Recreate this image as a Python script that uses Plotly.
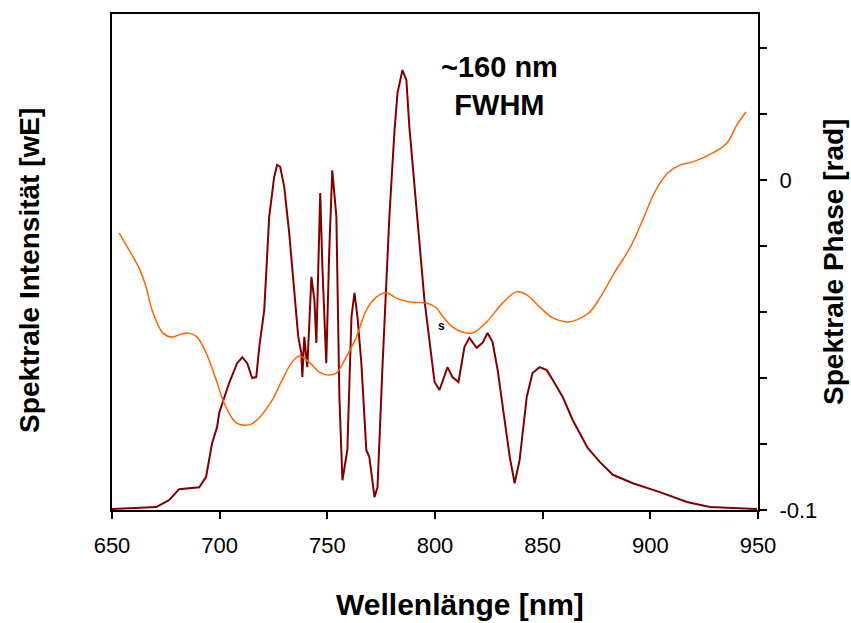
import plotly.graph_objects as go

# Spectral intensity (arbitrary units)
wl_int = [650.0, 670.5, 676.5, 681.2, 690.5, 693.7, 696.5, 698.8, 699.8, 702.1, 704.4, 708.1,
          710.5, 712.8, 715.1, 717.0, 718.4, 720.7, 723.0, 725.3, 726.7, 728.1, 730.0, 732.3,
          734.7, 736.5, 737.9, 738.4, 739.3, 740.7, 742.6, 744.0, 744.9, 746.7, 747.7, 749.5,
          750.9, 752.3, 754.2, 755.6, 757.0, 759.3, 761.2, 762.6, 764.0, 765.8, 768.1, 769.5,
          771.9, 773.3, 775.6, 777.4, 778.8, 781.2, 782.6, 784.9, 786.7, 788.1, 790.5, 792.8,
          795.1, 797.4, 799.8, 802.1, 804.4, 805.8, 808.1, 810.9, 813.7, 816.0, 819.3, 822.1,
          824.4, 826.7, 829.1, 832.3, 834.7, 837.0, 839.3, 842.6, 845.3, 848.6, 851.9, 854.7,
          859.3, 864.0, 867.2, 870.9, 876.5, 882.6, 891.9, 904.4, 917.0, 927.7, 938.4, 949.5]
intensity = [0.002, 0.006, 0.020, 0.042, 0.046, 0.067, 0.135, 0.167, 0.196, 0.228, 0.256, 0.296,
             0.308, 0.296, 0.266, 0.268, 0.329, 0.403, 0.591, 0.671, 0.696, 0.692, 0.651, 0.558,
             0.429, 0.349, 0.317, 0.268, 0.349, 0.288, 0.470, 0.423, 0.337, 0.639, 0.490, 0.296,
             0.524, 0.685, 0.591, 0.228, 0.060, 0.121, 0.389, 0.438, 0.389, 0.296, 0.121, 0.107,
             0.026, 0.046, 0.288, 0.458, 0.591, 0.766, 0.841, 0.887, 0.867, 0.772, 0.659, 0.538,
             0.423, 0.337, 0.258, 0.242, 0.268, 0.288, 0.268, 0.258, 0.329, 0.347, 0.327, 0.337,
             0.357, 0.339, 0.282, 0.181, 0.107, 0.054, 0.101, 0.228, 0.276, 0.288, 0.282, 0.262,
             0.228, 0.181, 0.155, 0.125, 0.097, 0.071, 0.054, 0.036, 0.016, 0.006, 0.004, 0.002]

# Spectral phase (rad)
wl_phase = [653.3, 657.9, 662.6, 665.8, 668.6, 673.3, 677.4, 682.1, 685.8, 689.5, 693.7, 698.4,
            702.1, 707.7, 713.7, 717.4, 724.4, 728.6, 733.3, 737.0, 741.6, 746.3, 750.9, 754.2,
            758.8, 763.5, 768.1, 772.8, 777.4, 782.1, 788.1, 796.0, 800.7, 802.1, 808.1, 814.7,
            818.4, 824.0, 831.4, 837.9, 842.6, 848.6, 854.7, 861.2, 865.8, 871.9, 876.5, 883.5,
            890.5, 896.5, 902.1, 908.1, 913.7, 919.8, 929.1, 935.6, 940.2, 944.4]
phase = [-0.0161, -0.0212, -0.0267, -0.0324, -0.0394, -0.0461, -0.0476, -0.0467, -0.0464, -0.0476,
         -0.0524, -0.0606, -0.0676, -0.0736, -0.0742, -0.0727, -0.0667, -0.0612, -0.0555, -0.0533,
         -0.0552, -0.0582, -0.0591, -0.0585, -0.0536, -0.0476, -0.0394, -0.0355, -0.0342, -0.0358,
         -0.0370, -0.0373, -0.0388, -0.0400, -0.0445, -0.0464, -0.0461, -0.0430, -0.0373, -0.0339,
         -0.0348, -0.0385, -0.0418, -0.0430, -0.0424, -0.0400, -0.0358, -0.0279, -0.0206, -0.0121,
         -0.0036, 0.0021, 0.0045, 0.0055, 0.0082, 0.0112, 0.0167, 0.0206]

x_ticks = [650, 700, 750, 800, 850, 900, 950]
phase_ticks = [-0.1, -0.08, -0.06, -0.04, -0.02, 0, 0.02, 0.04]
phase_tick_text = ["-0.1", "", "", "", "", "0", "", ""]

FONT = "Liberation Sans, Arial, sans-serif"

fig = go.Figure()
fig.add_trace(go.Scatter(x=wl_int, y=intensity, mode="lines",
                         line=dict(color="#800000", width=2), yaxis="y"))
fig.add_trace(go.Scatter(x=wl_phase, y=phase, mode="lines",
                         line=dict(color="#FF6600", width=1.5, shape="spline"), yaxis="y2"))

fig.update_layout(
    width=851, height=623,
    margin=dict(l=112, r=93, t=14, b=113),
    paper_bgcolor="white", plot_bgcolor="white",
    showlegend=False,
    font=dict(family=FONT, size=22, color="black"),
    xaxis=dict(range=[650, 950], tickvals=x_ticks, ticks="outside", ticklen=7, tickwidth=1.5,
               tickcolor="black", showline=True, linecolor="black", linewidth=2, mirror=True,
               showgrid=False, zeroline=False, tickfont=dict(size=22), ticklabelstandoff=8),
    yaxis=dict(range=[0, 1], showticklabels=False, ticks="", showline=True, linecolor="black",
               linewidth=2, showgrid=False, zeroline=False),
    yaxis2=dict(range=[-0.1, 0.0503], overlaying="y", side="right", tickvals=phase_ticks,
                ticktext=phase_tick_text, ticks="outside", ticklen=7, tickwidth=1.5,
                tickcolor="black", showline=True, linecolor="black", linewidth=2,
                showgrid=False, zeroline=False, tickfont=dict(size=22), ticklabelstandoff=8),
    annotations=[
        dict(text="<b>Wellenlänge [nm]</b>", x=0.539, y=-0.1915, xref="paper", yref="paper",
             showarrow=False, font=dict(size=30), xanchor="center", yanchor="middle"),
        dict(text="<b>Spektrale Intensität [wE]</b>", xref="paper", yref="paper",
             x=-0.127, y=0.484, showarrow=False, textangle=-90, font=dict(size=28),
             xanchor="center", yanchor="middle"),
        dict(text="<b>Spektrale Phase [rad]</b>", xref="paper", yref="paper",
             x=1.116, y=0.5, showarrow=False, textangle=-90, font=dict(size=28),
             xanchor="center", yanchor="middle"),
        dict(text="<b>~160 nm<br>FWHM</b>", x=830, y=0.855, xref="x", yref="y",
             showarrow=False, font=dict(size=29)),
        dict(text="<b>s</b>", x=803, y=0.37, xref="x", yref="y",
             showarrow=False, font=dict(size=12)),
    ],
)

fig.write_html("out.html")
